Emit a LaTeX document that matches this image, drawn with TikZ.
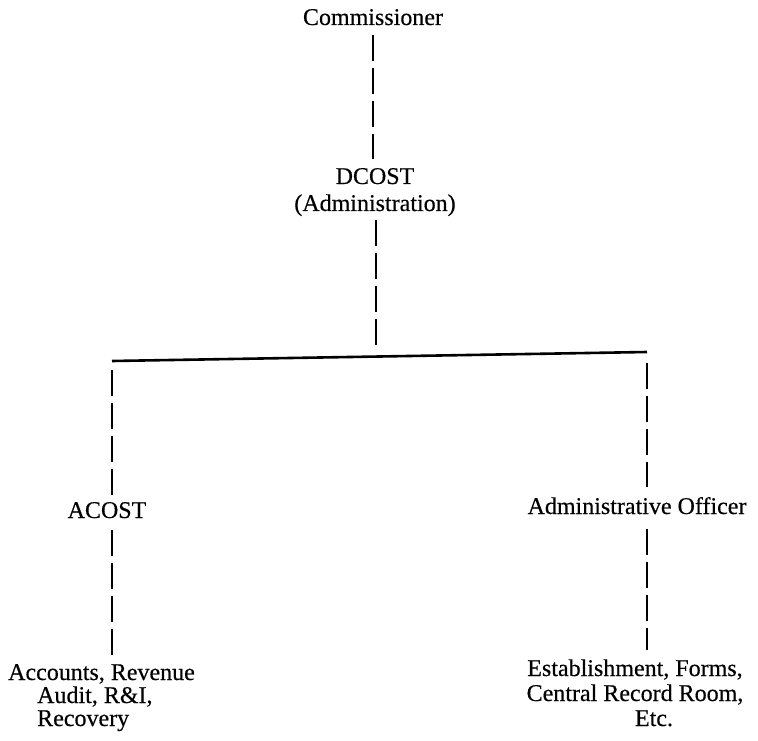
\documentclass[tikz,border=0pt]{standalone}
\usepackage{fontspec}
\setmainfont[FakeBold=0.4]{Liberation Serif}
\begin{document}
\begin{tikzpicture}[x=1pt,y=-1pt,
  lbl/.style={inner sep=0pt, text height=17pt, text depth=5pt,
              font=\fontsize{24}{28}\selectfont, anchor=base},
  lblw/.style={lbl, anchor=base west},
  conn/.style={line width=2pt, dash pattern=on 26pt off 7pt},
  bar/.style={line width=2.6pt}]
\useasboundingbox (0,0) rectangle (758,741);

% top of the chart
\node[lbl] (comm) at (373,25) {Commissioner};
\node[lbl] (dcost) at (375,184) {DCOST};
\node[lbl] (dadm) at (375,211) {(Administration)};

% branch bar
\coordinate (hl) at (112,361);
\coordinate (hr) at (647,352);
\coordinate (hmid) at (376,349);

% left branch
\node[lbl] (acost) at (107,518) {ACOST};
\node[lblw] (acc1) at (8,680) {Accounts, Revenue};
\node[lblw] (acc2) at (37,703) {Audit, R\&I,};
\node[lblw] (acc3) at (37,726) {Recovery};

% right branch
\node[lbl] (officer) at (637,514) {Administrative Officer};
\node[lbl] (est1) at (635,676) {Establishment, Forms,};
\node[lbl] (est2) at (635,701) {Central Record Room,};
\node[lbl] (est3) at (654,726) {Etc.};

% connectors
\draw[conn, shorten <=5pt, shorten >=8pt] (comm.south) -- (comm.south |- dcost.north);
\draw[conn, shorten <=4pt] (hmid |- dadm.south) -- (hmid);
\draw[bar] (hl) -- (hr);
\draw[conn, shorten <=9pt, shorten >=6pt] (hl) -- (hl |- acost.north);
\draw[conn, shorten <=7pt, shorten >=8pt] (hl |- acost.south) -- (hl |- acc1.north);
\draw[conn, shorten <=11pt, shorten >=10pt] (hr) -- (hr |- officer.north);
\draw[conn, shorten <=10pt, shorten >=9pt] (hr |- officer.south) -- (hr |- est1.north);
\end{tikzpicture}
\end{document}
